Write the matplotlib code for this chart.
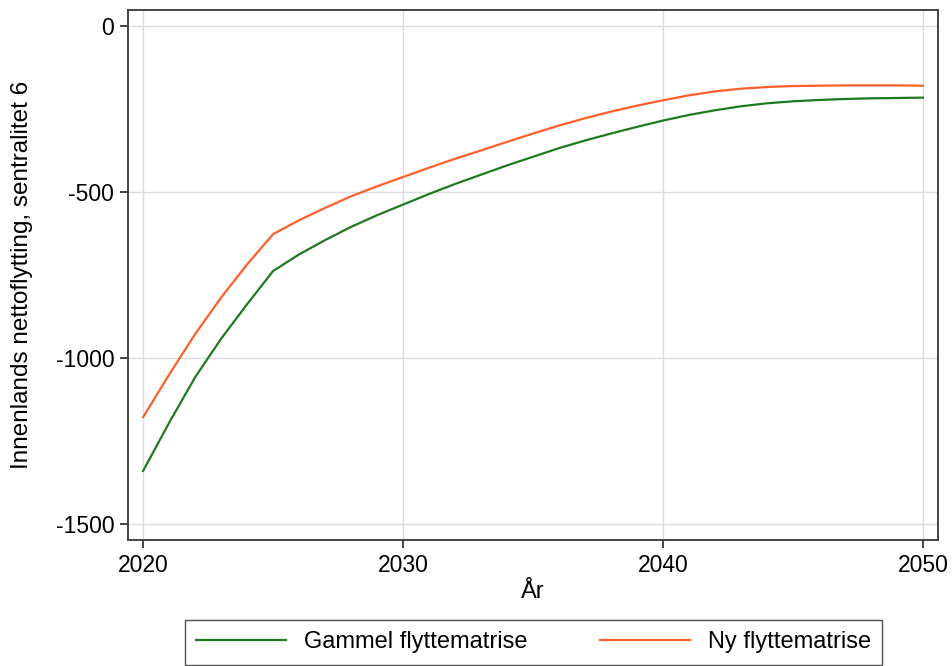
import matplotlib
matplotlib.use("Agg")
import matplotlib.pyplot as plt
import numpy as np

plt.rcParams['font.family'] = ['Liberation Sans', 'DejaVu Sans']
plt.rcParams['axes.unicode_minus'] = False

years = list(range(2020, 2051))
gammel = [-1340, -1195, -1058, -942, -838, -738, -688, -645, -605, -570,
          -538, -506, -476, -448, -420, -394, -368, -345, -324, -304,
          -285, -268, -254, -242, -233, -227, -223, -220, -218, -217, -216]
ny = [-1178, -1050, -928, -818, -718, -627, -585, -548, -513, -483,
      -455, -427, -400, -375, -349, -324, -300, -278, -258, -240,
      -224, -209, -197, -189, -184, -181, -180, -179, -179, -179, -180]

x_ticks = [2020, 2030, 2040, 2050]
y_ticks = [0, -500, -1000, -1500]

fig = plt.figure(figsize=(9.52, 6.66), dpi=100)
ax = fig.add_axes([0.1345, 0.1892, 0.8508, 0.7958])

ax.plot(years, gammel, color="#1f7a1f", lw=1.6, label="Gammel flyttematrise", zorder=3)
ax.plot(years, ny, color="#ff5f2a", lw=1.6, label="Ny flyttematrise", zorder=3)

ax.set_xlim(2019.42, 2050.58)
ax.set_ylim(-1548, 48)
ax.set_xticks(x_ticks)
ax.set_yticks(y_ticks)
ax.grid(True, color="#dcdcdc", lw=1.0)
ax.set_axisbelow(True)
for s in ax.spines.values():
    s.set_color("#444444")
    s.set_linewidth(1.4)
ax.tick_params(direction="out", length=6, width=1.2, color="#222222",
               labelsize=16.5, pad=4)

ax.set_xlabel("År", fontsize=17, labelpad=3)
ax.set_ylabel("Innenlands nettoflytting, sentralitet 6", fontsize=17.5, labelpad=16)

leg = fig.legend(loc="center", bbox_to_anchor=(0.5604, 0.0353), ncol=2,
                 fontsize=17, handlelength=3.8, columnspacing=3.1,
                 handletextpad=0.76, frameon=True, fancybox=False,
                 borderpad=0.48, borderaxespad=0)
leg.get_frame().set_edgecolor("#222222")
leg.get_frame().set_linewidth(1.0)

fig.savefig("out.png", dpi=100)
